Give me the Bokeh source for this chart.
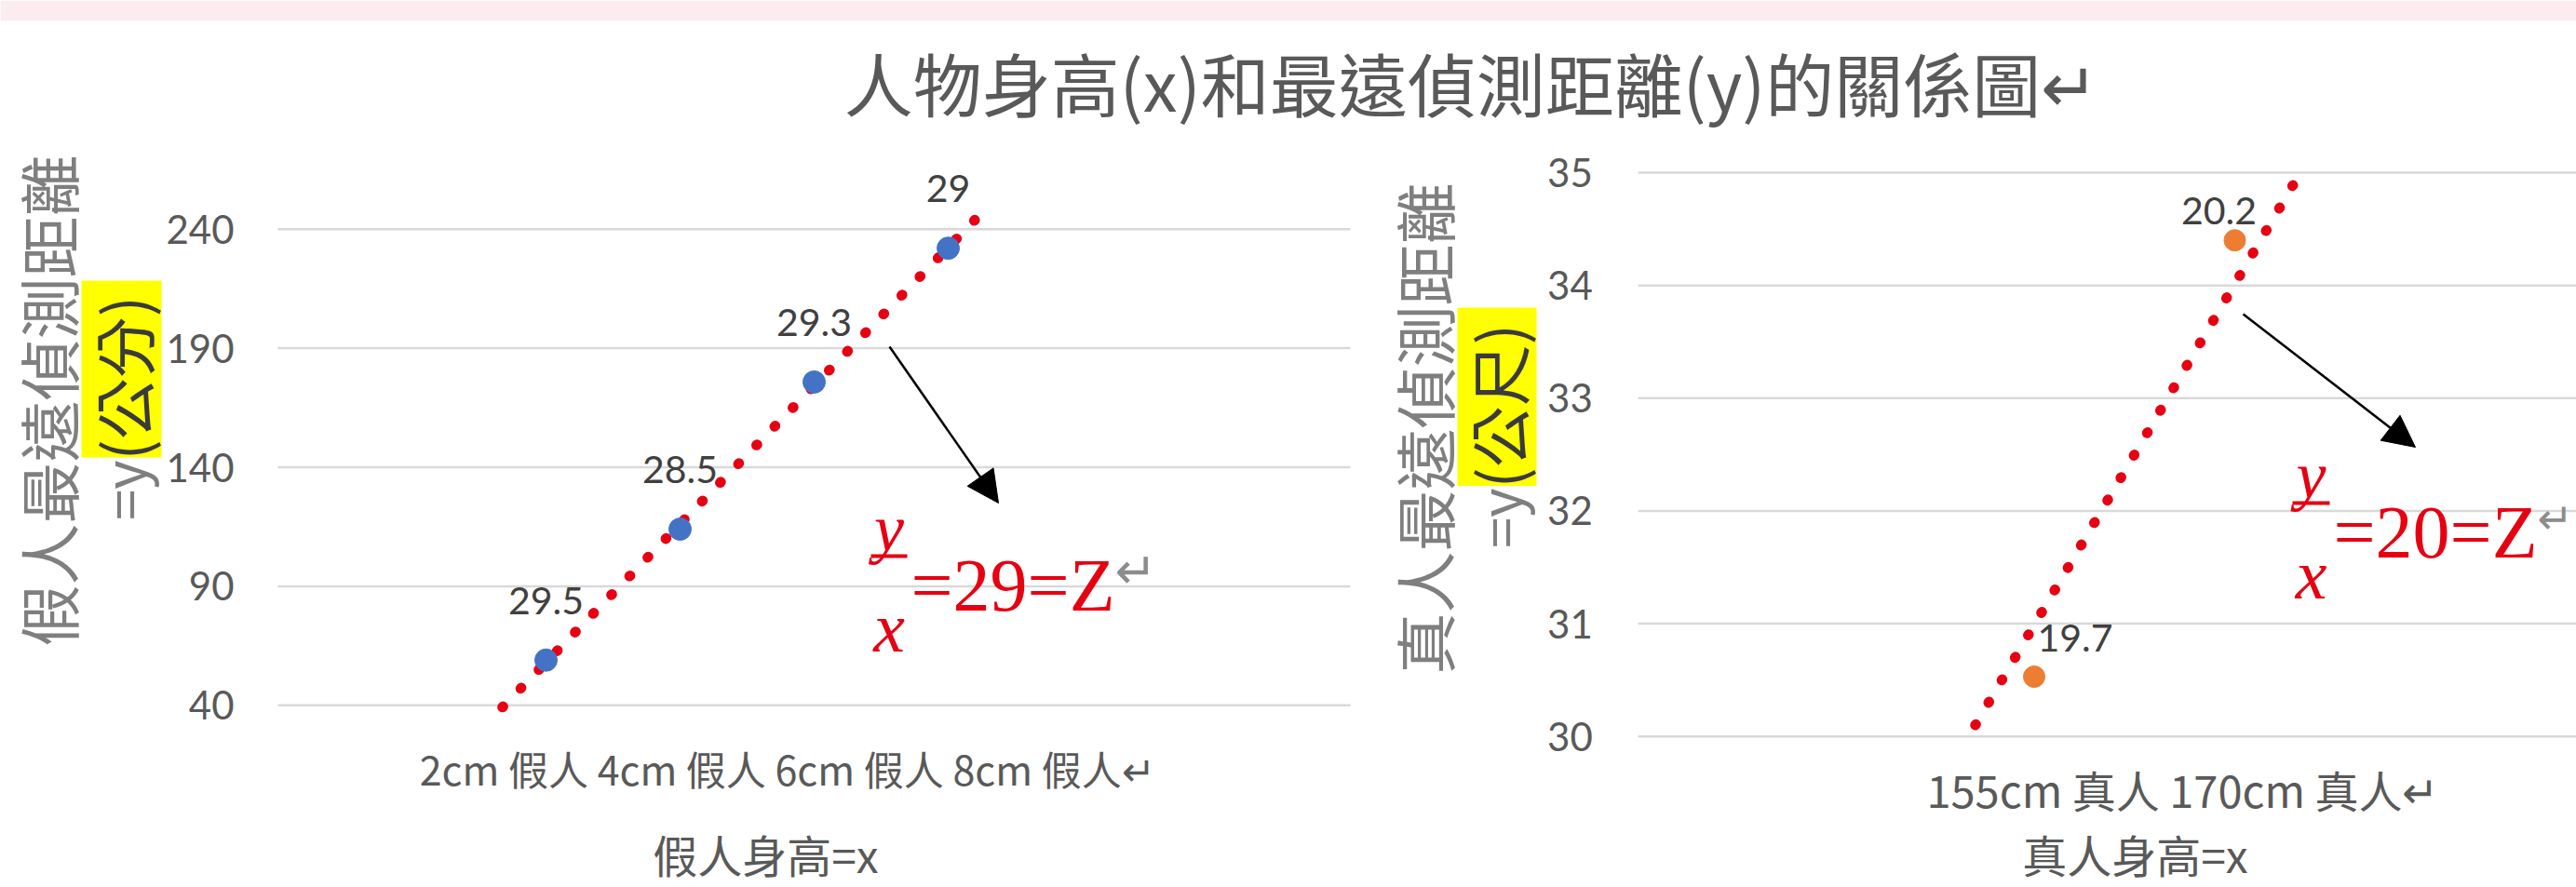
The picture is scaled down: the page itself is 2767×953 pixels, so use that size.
import math

import numpy as np
from bokeh.core.properties import value
from bokeh.embed import file_html
from bokeh.models import (Arrow, BoxAnnotation, FixedTicker, Label, LinearAxis,
                          NormalHead, Range1d)
from bokeh.plotting import figure
from bokeh.resources import INLINE

# ---------------------------------------------------------------- data
title_text = "人物身高(x)和最遠偵測距離(y)的關係圖↵"

# dummy figures: height (cm) vs. farthest detection distance (cm)
fake_heights = [2, 4, 6, 8]
fake_distance = [59, 114, 175.8, 232]
fake_ratio_labels = ["29.5", "28.5", "29.3", "29"]
fake_categories = ["2cm 假人", "4cm 假人", "6cm 假人", "8cm 假人"]
fake_y_ticks = [40, 90, 140, 190, 240]
fake_trend_span = [1.35, 8.6]
fake_ratio = 29
fake_y_title = "假人最遠偵測距離"
fake_unit = "(公分)"
fake_x_title = "假人身高=x"

# real people: height (cm) vs. farthest detection distance (m)
real_heights = [155, 170]
real_distance = [30.53, 34.4]
real_ratio_labels = ["19.7", "20.2"]
real_categories = ["155cm 真人", "170cm 真人"]
real_y_ticks = [30, 31, 32, 33, 34, 35]
real_trend_x = [150.6, 174.4]
real_trend_y = [30.1, 34.9]
real_ratio = 20
real_y_title = "真人最遠偵測距離"
real_unit = "(公尺)"
real_x_title = "真人身高=x"

# ---------------------------------------------------------------- style
W, H = 2767, 953
CJK = "Noto Sans CJK TC"
NUM = "Lato"
SERIF = "Liberation Serif"
GRID = "#D9D9D9"
TICK = "#595959"
TITLE_GREY = "#7F7F7F"
LABEL = "#404040"
BLUE = "#4472C4"
ORANGE = "#ED7D31"
RED = "#E60012"
PINK = "#FDECEF"
YELLOW = "#FFFF00"


def x_span(v0, p0, v1, p1):
    """Range over the whole canvas width with v0 at pixel p0 and v1 at p1."""
    k = (p1 - p0) / (v1 - v0)
    return Range1d(start=v0 - p0 / k, end=v0 + (W - p0) / k)


def y_span(v0, p0, v1, p1):
    """Range over the whole canvas height; pixels counted from the top."""
    k = (p0 - p1) / (v1 - v0)
    return Range1d(start=v0 - (H - p0) / k, end=v0 + p0 / k)


p = figure(width=W, height=H, x_range=Range1d(0, W), y_range=Range1d(H, 0),
           x_axis_type=None, y_axis_type=None, toolbar_location=None,
           output_backend="svg", min_border=0, outline_line_color=None,
           background_fill_color="white", border_fill_color="white")

p.extra_x_ranges = {"xl": x_span(-2, 298, 14, 1450),
                    "xr": x_span(155, 2184.5, 170, 2400)}
p.extra_y_ranges = {"yl": y_span(40, 757.3, 240, 245.7),
                    "yr": y_span(30, 790.7, 35, 185)}

# banner strip along the top edge
p.add_layout(BoxAnnotation(left=0, right=W, top=0, bottom=21.7,
                           fill_color=PINK, fill_alpha=1, line_color=None,
                           level="underlay"))

# ---------------------------------------------------------------- grids
p.segment(x0=-2, x1=14, y0=fake_y_ticks, y1=fake_y_ticks,
          line_color=GRID, line_width=2.5, x_range_name="xl", y_range_name="yl")
p.segment(x0=125.4, x1=200, y0=real_y_ticks, y1=real_y_ticks,
          line_color=GRID, line_width=2.5, x_range_name="xr", y_range_name="yr")


# ---------------------------------------------------------------- axes
def value_axis(xr, yr, loc, ticks, standoff):
    ax = LinearAxis(x_range_name=xr, y_range_name=yr, fixed_location=loc,
                    ticker=FixedTicker(ticks=ticks),
                    axis_line_color=None, major_tick_line_color=None,
                    minor_tick_line_color=None, major_tick_out=0, major_tick_in=0,
                    major_label_standoff=standoff,
                    major_label_text_font=NUM, major_label_text_font_size="42px",
                    major_label_text_color=TICK)
    p.add_layout(ax, "left")


def category_axis(xr, yr, loc, center, cats, standoff, size):
    ax = LinearAxis(x_range_name=xr, y_range_name=yr, fixed_location=loc,
                    ticker=FixedTicker(ticks=[center]),
                    major_label_overrides={center: " ".join(cats) + "↵"},
                    axis_line_color=None, major_tick_line_color=None,
                    minor_tick_line_color=None, major_tick_out=0, major_tick_in=0,
                    major_label_standoff=standoff,
                    major_label_text_font=CJK, major_label_text_font_size=size,
                    major_label_text_color=TICK)
    p.add_layout(ax, "below")


value_axis("xl", "yl", -2, fake_y_ticks, 47)
value_axis("xr", "yr", 125.4, real_y_ticks, 49)
category_axis("xl", "yl", 40, 5.6, fake_categories, 36, "43px")
category_axis("xr", "yr", 30, 166.1, real_categories, 22, "47px")

# ---------------------------------------------------------------- series
k, b = np.polyfit(fake_heights, fake_distance, 1)
tx = np.array(fake_trend_span)
p.line(tx, k * tx + b, line_color=RED, line_width=11, line_dash="1 27",
       line_cap="round", x_range_name="xl", y_range_name="yl")
p.scatter(fake_heights, fake_distance, size=24, color=BLUE,
          x_range_name="xl", y_range_name="yl")
p.text(fake_heights, fake_distance, text=fake_ratio_labels, y_offset=-64,
       text_align="center", text_baseline="middle", text_font=value(NUM),
       text_font_size="41px", text_color=LABEL,
       x_range_name="xl", y_range_name="yl")

p.line(real_trend_x, real_trend_y, line_color=RED, line_width=11,
       line_dash="1 27", line_cap="round", x_range_name="xr", y_range_name="yr")
p.scatter(real_heights, real_distance, size=23, color=ORANGE,
          x_range_name="xr", y_range_name="yr")
p.text(real_heights, real_distance, text=real_ratio_labels,
       x_offset=[44, -17], y_offset=[-41, -32],
       text_align="center", text_baseline="middle", text_font=value(NUM),
       text_font_size="41px", text_color=LABEL,
       x_range_name="xr", y_range_name="yr")

# ---------------------------------------------------------------- texts
p.add_layout(Label(x=1580, y=87, text=title_text, text_align="center",
                   text_baseline="middle", text_font=CJK,
                   text_font_size="74px", text_color=TICK))


def y_title(cx1, cy1, main, cx2, junction, unit, box):
    left, right, top, bottom = box
    p.add_layout(BoxAnnotation(left=left, right=right, top=top, bottom=bottom,
                               fill_color=YELLOW, fill_alpha=1, line_color=None,
                               level="underlay"))
    p.add_layout(Label(x=cx1, y=cy1, text=main, angle=math.pi / 2,
                       text_align="center", text_baseline="middle",
                       text_font=CJK, text_font_size="66px",
                       text_color=TITLE_GREY))
    p.add_layout(Label(x=cx2, y=junction, text="=y", angle=math.pi / 2,
                       text_align="right", text_baseline="middle",
                       text_font=CJK, text_font_size="60px",
                       text_color=TITLE_GREY))
    p.add_layout(Label(x=cx2, y=junction, text=unit, angle=math.pi / 2,
                       text_align="left", text_baseline="middle",
                       text_font=CJK, text_font_size="66px", text_color="#3A3A3A"))


y_title(49.5, 430, fake_y_title, 130, 494, fake_unit, (87, 173, 301, 491))
y_title(1527, 460, real_y_title, 1607.5, 524, real_unit, (1565, 1650, 330, 521.6))

p.add_layout(Label(x=822, y=916, text=fake_x_title, text_align="center",
                   text_baseline="middle", text_font=CJK,
                   text_font_size="48px", text_color=TICK))
p.add_layout(Label(x=2293, y=916, text=real_x_title, text_align="center",
                   text_baseline="middle", text_font=CJK,
                   text_font_size="48px", text_color=TICK))


def ratio_note(arrow, bar, ratio, mark_size):
    x0, y0, x1, y1 = arrow
    p.add_layout(Arrow(x_start=x0, y_start=y0, x_end=x1, y_end=y1,
                       line_color="black", line_width=2.5,
                       end=NormalHead(size=34, fill_color="black",
                                      line_color="black")))
    bl, br, by = bar
    cx = (bl + br) / 2
    p.add_layout(BoxAnnotation(left=bl, right=br, top=by - 2, bottom=by + 2,
                               fill_color=RED, fill_alpha=1, line_color=None))
    p.add_layout(Label(x=cx, y=by - 30, text="y", text_align="center",
                       text_baseline="alphabetic", text_font=SERIF,
                       text_font_style="italic", text_font_size="72px",
                       text_color=RED))
    p.add_layout(Label(x=cx, y=by + 76, text="x", text_align="center",
                       text_baseline="alphabetic", text_font=SERIF,
                       text_font_style="italic", text_font_size="76px",
                       text_color=RED))
    p.add_layout(Label(x=br + 4, y=by + 31, text=f"={ratio}=Z",
                       text_align="left", text_baseline="alphabetic",
                       text_font=SERIF, text_font_size="80px", text_color=RED))
    p.add_layout(Label(x=br + 223, y=by + 16, text="↵", text_align="left",
                       text_baseline="alphabetic", text_font="DejaVu Sans",
                       text_font_size=mark_size, text_color="#8C8C8C"))


ratio_note((955, 372, 1072, 540), (935, 974, 597), fake_ratio, "54px")
ratio_note((2409, 337, 2594, 480), (2462, 2502, 540), real_ratio, "46px")

open("out.html", "w").write(file_html(p, INLINE))
